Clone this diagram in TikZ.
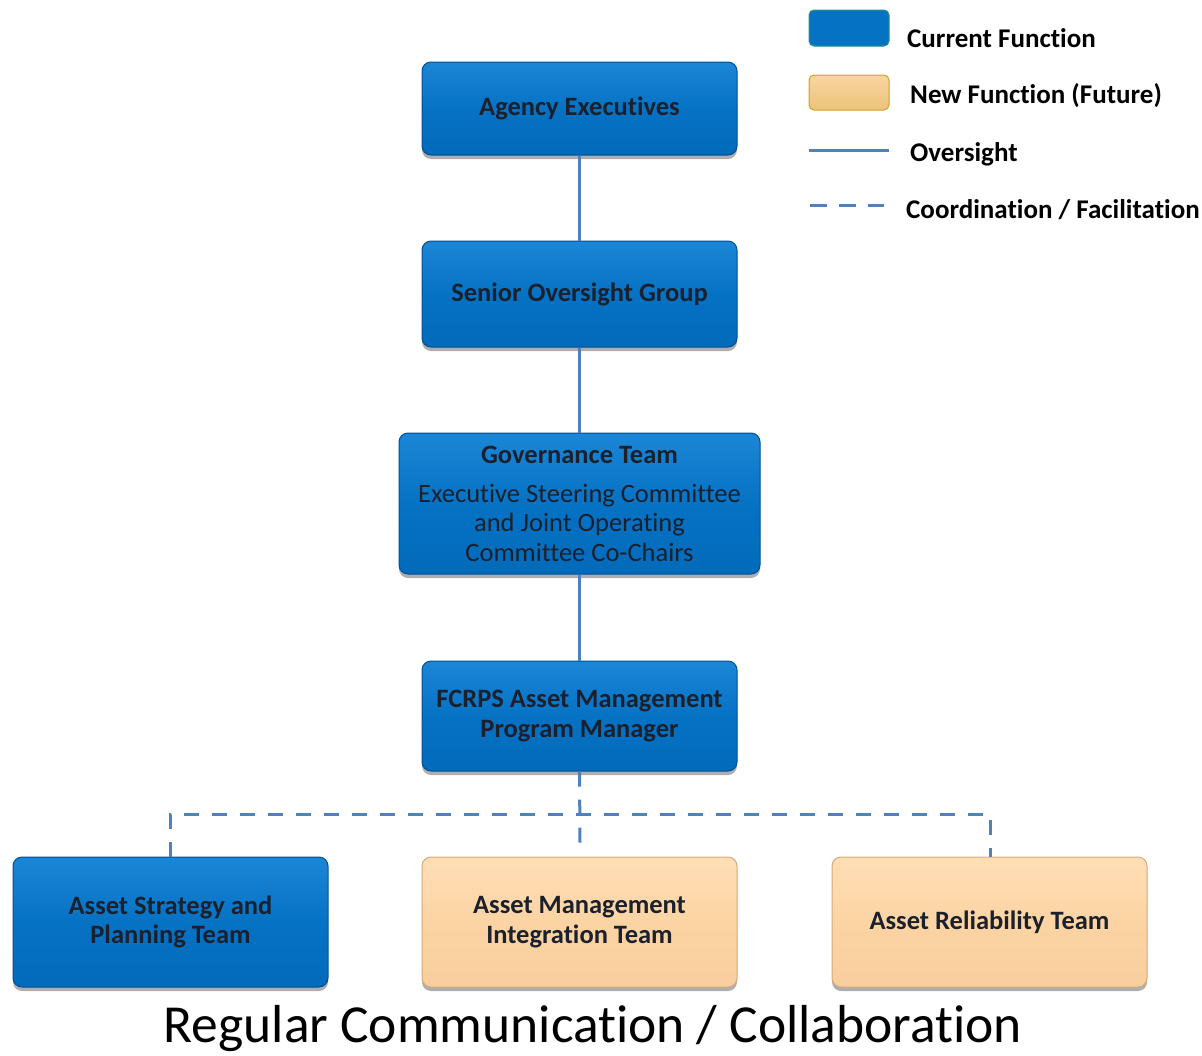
\documentclass[tikz,border=0pt]{standalone}
\usepackage{fontspec}
\setmainfont{Carlito}[Ligatures=NoCommon]
\usetikzlibrary{shadows}
\definecolor{boxblue}{RGB}{6,114,196}
\definecolor{boxbluetop}{RGB}{28,134,214}
\definecolor{boxbluebot}{RGB}{2,106,186}
\definecolor{blueedge}{RGB}{0,80,150}
\definecolor{orfill}{RGB}{252,212,164}
\definecolor{ortop}{RGB}{255,222,182}
\definecolor{orbot}{RGB}{248,206,158}
\definecolor{oredge}{RGB}{215,170,120}
\definecolor{legor}{RGB}{236,194,124}
\definecolor{legortop}{RGB}{248,214,160}
\definecolor{legoredge}{RGB}{210,160,40}
\definecolor{legblueedge}{RGB}{30,150,130}
\definecolor{linkblue}{RGB}{79,129,189}
\definecolor{txt}{RGB}{26,32,44}
\tikzset{
  orgbox/.style={rounded corners=9pt, minimum width=315pt, align=center,
    text=txt, font=\fontsize{26.5}{29.5}\selectfont\bfseries, inner sep=0pt,
    drop shadow={shadow xshift=0pt, shadow yshift=-4pt, opacity=0.45, fill=black!70}},
  curbox/.style={orgbox, draw=blueedge, line width=1pt, top color=boxbluetop, bottom color=boxbluebot, middle color=boxblue},
  newbox/.style={orgbox, draw=oredge, line width=1pt, top color=ortop, bottom color=orbot, middle color=orfill},
  oversight/.style={draw=linkblue, line width=3pt},
  coord/.style={draw=linkblue, line width=3pt, dash pattern=on 15pt off 13pt},
  legtext/.style={anchor=west, text=black, font=\fontsize{27}{32}\selectfont\bfseries, inner sep=0pt}
}
\begin{document}
\begin{tikzpicture}[x=1pt,y=-1pt]
\useasboundingbox (0,0) rectangle (1202,1055);
% boxes
\node[curbox, minimum height=93pt] (ae) at (579.5,108.5) {Agency Executives};
\node[curbox, minimum height=106pt] (sog) at (579.5,294) {Senior Oversight Group};
\node[curbox, minimum width=361pt, minimum height=141pt] (gov) at (579.5,503.5)
  {Governance Team\\[9.5pt]{\mdseries Executive Steering Committee}\\{\mdseries and Joint Operating}\\{\mdseries Committee Co-Chairs}};
\node[curbox, minimum height=110pt] (pm) at (579.5,716) {FCRPS Asset Management\\Program Manager};
\node[curbox, minimum height=130pt] (ast) at (170.5,922) {Asset Strategy and\\Planning Team};
\node[newbox, minimum height=130pt] (ami) at (579.5,922) {Asset Management\\Integration Team};
\node[newbox, minimum height=130pt] (arel) at (989.5,922) {Asset Reliability Team};
% oversight lines
\draw[oversight] (ae.south) -- (sog.north);
\draw[oversight] (sog.south) -- (gov.north);
\draw[oversight] (gov.south) -- (pm.north);
% coordination lines
\coordinate (jl) at (170,814);
\coordinate (jr) at (990,814);
\coordinate (jm) at (580,843);
\draw[coord] (pm.south) -- (jm);
\draw[coord] (ast.north -| jl) -- (jl) -- (jr) -- (arel.north -| jr);
% bottom caption
\node[font=\fontsize{53.5}{60}\selectfont, text=black, inner sep=0pt] (cap) at (593,1029) {Regular Communication / Collaboration};
% legend
\node[rounded corners=5pt, draw=legblueedge, line width=1pt, fill=boxblue, minimum width=80pt, minimum height=36pt, inner sep=0pt] (lcur) at (849,28) {};
\node[legtext] (tcur) at (907,38) {Current Function};
\node[rounded corners=5pt, draw=legoredge, line width=1pt, top color=legortop, bottom color=legor, minimum width=80pt, minimum height=35pt, inner sep=0pt] (lnew) at (849,92.5) {};
\node[legtext] (tnew) at (910,96) {New Function (Future)};
\coordinate (lo1) at (809,150);
\coordinate (lo2) at (889,150);
\draw[oversight] (lo1) -- (lo2);
\node[legtext] (tov) at (910,154) {Oversight};
\coordinate (lc1) at (810,205);
\coordinate (lc2) at (884,205);
\draw[draw=linkblue, line width=3pt, dash pattern=on 17pt off 12pt] (lc1) -- (lc2);
\node[legtext] (tco) at (906,210) {Coordination / Facilitation};
\end{tikzpicture}
\end{document}
